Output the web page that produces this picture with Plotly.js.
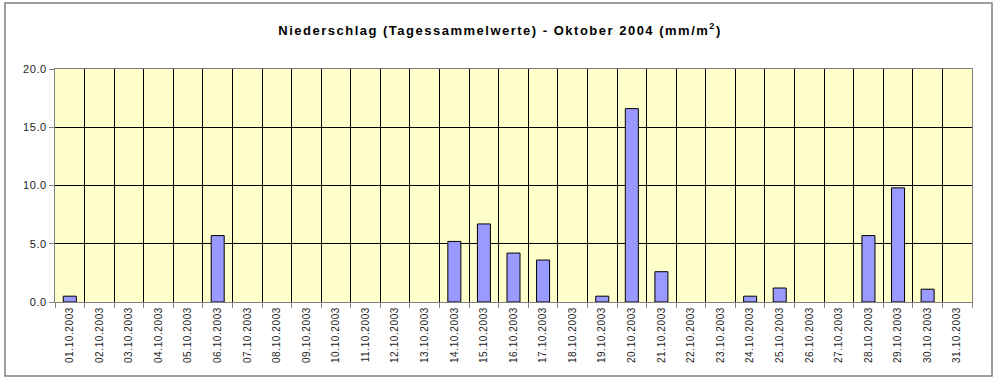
<!DOCTYPE html>
<html><head><meta charset="utf-8">
<script src="https://cdn.plot.ly/plotly-3.0.1.min.js"></script>
<style>html,body{margin:0;padding:0;background:#fff}#chart{width:1000px;height:382px}
#chart .gtitle{letter-spacing:1.5px}
#chart .xtick text{letter-spacing:0.6px}
#chart .ytick text{letter-spacing:0.6px}
</style>
</head><body><div id="chart"></div>
<script>
const days = ["01.10.2003","02.10.2003","03.10.2003","04.10.2003","05.10.2003","06.10.2003","07.10.2003","08.10.2003","09.10.2003","10.10.2003","11.10.2003","12.10.2003","13.10.2003","14.10.2003","15.10.2003","16.10.2003","17.10.2003","18.10.2003","19.10.2003","20.10.2003","21.10.2003","22.10.2003","23.10.2003","24.10.2003","25.10.2003","26.10.2003","27.10.2003","28.10.2003","29.10.2003","30.10.2003","31.10.2003"];
const rain = [0.5,0,0,0,0,5.7,0,0,0,0,0,0,0,5.2,6.7,4.2,3.6,0,0.5,16.6,2.6,0,0,0.5,1.2,0,0,5.7,9.8,1.1,0];
const yTicks = [0,5,10,15,20];

const L=55,R=28,T=69,B=80,W=1000-L-R,H=382-T-B;
const px=x=>(x-L)/W, py=y=>(382-B-y)/H;

Plotly.newPlot('chart',[{
  type:'bar', x:days, y:rain.map(v=>v===0?null:v),
  marker:{color:'#9999FF', line:{color:'#000000', width:1}},
  hoverinfo:'x+y'
}],{
  width:1000, height:382,
  margin:{l:L,r:R,t:T,b:B,pad:0},
  paper_bgcolor:'#ffffff', plot_bgcolor:'#FFFFCC',
  bargap:0.56,
  title:{text:'<b>Niederschlag (Tagessammelwerte) - Oktober 2004 (mm/m<sup>2</sup>)</b>', font:{family:'Arial, Liberation Sans, sans-serif', size:13, color:'#000'}, x:0.5, xanchor:'center', y:1-30/382, yanchor:'middle'},
  xaxis:{type:'category', tickson:'boundaries', ticks:'outside', ticklen:5, tickcolor:'#808080',
    showgrid:true, gridcolor:'#000000', gridwidth:1,
    tickangle:-90, tickfont:{family:'Arial, Liberation Sans, sans-serif', size:10, color:'#222222'},
    showline:true, linecolor:'#808080', linewidth:1, mirror:true, automargin:false, fixedrange:true},
  yaxis:{range:[0,20], tickvals:yTicks, tickformat:'.1f', ticks:'outside', ticklen:5, tickcolor:'#808080',
    showgrid:true, gridcolor:'#000000', gridwidth:1, zeroline:false,
    tickfont:{family:'Arial, Liberation Sans, sans-serif', size:11, color:'#222222'},
    showline:true, linecolor:'#808080', linewidth:1, mirror:true, automargin:false, fixedrange:true},
  shapes:[{type:'rect', xref:'paper', yref:'paper', x0:px(5), x1:px(992), y0:py(376), y1:py(3), line:{color:'#808080', width:1.5}, layer:'below'}],
  showlegend:false
},{displayModeBar:false, staticPlot:true});
</script></body></html>
